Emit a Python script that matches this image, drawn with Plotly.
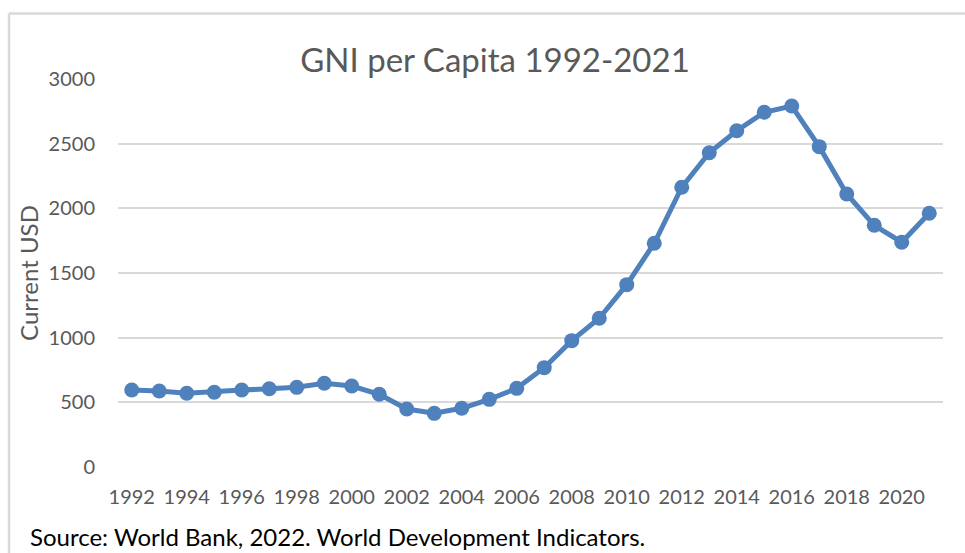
import plotly.graph_objects as go

years = list(range(1992, 2022))
gni = [595, 588, 570, 578, 595, 605, 616, 647, 626, 562, 448, 415, 454, 523, 608,
       768, 977, 1150, 1410, 1730, 2163, 2430, 2600, 2743, 2791, 2477, 2111, 1869, 1738, 1962]
y_ticks = [0, 500, 1000, 1500, 2000, 2500, 3000]
x_ticks = list(range(1992, 2021, 2))

title_text = "GNI per Capita 1992-2021"
y_title = "Current USD"
source_text = "Source: World Bank, 2022. World Development Indicators."

FONT = "Lato"
GRAY = "#595959"
BLUE = "#4f81bd"

fig = go.Figure()
fig.add_trace(go.Scatter(
    x=years, y=gni, mode="lines+markers",
    line=dict(color=BLUE, width=5),
    marker=dict(color=BLUE, size=15),
    showlegend=False, hoverinfo="x+y",
))

fig.update_layout(
    width=965, height=553,
    margin=dict(l=118, r=22, t=79, b=86),
    paper_bgcolor="white", plot_bgcolor="white",
    font=dict(family=FONT, color=GRAY, size=20),
    title=dict(text=title_text, x=495 / 965, xanchor="center", xref="container",
               y=1 - 60 / 553, yanchor="middle", yref="container",
               font=dict(family=FONT, size=33, color=GRAY)),
    xaxis=dict(range=[1991.5, 2021.5], tickvals=x_ticks, ticktext=[str(v) for v in x_ticks],
               showgrid=False, zeroline=False, showline=False, ticks="",
               ticklabelstandoff=16, tickfont=dict(size=20, color=GRAY)),
    yaxis=dict(range=[0, 3000], tickvals=y_ticks, showgrid=True, gridcolor="#d9d9d9",
               gridwidth=1.5, zeroline=False, showline=False, ticks="",
               ticklabelstandoff=22, tickfont=dict(size=20, color=GRAY),
               title=dict(text=y_title, standoff=3, font=dict(size=24, color=GRAY))),
)

# chart frame (top and left edges visible)
fig.add_shape(type="line", xref="paper", yref="paper",
              x0=-109 / 825, x1=847 / 825, y0=1 + 65.5 / 388, y1=1 + 65.5 / 388,
              line=dict(color="#d9d9d9", width=2.5))
fig.add_shape(type="line", xref="paper", yref="paper",
              x0=-109 / 825, x1=-109 / 825, y0=1 + 65.5 / 388, y1=-86 / 388 - 0.05,
              line=dict(color="#d9d9d9", width=2.5))

fig.add_annotation(text=source_text, xref="paper", yref="paper",
                   x=-90 / 825, y=-(536 - 467) / 388, xanchor="left", yanchor="middle",
                   showarrow=False, font=dict(family=FONT, size=24, color="#000000"))

fig.write_html("out.html", config={"displayModeBar": False},
               post_script="document.body.style.margin='0px';document.body.style.overflow='hidden';")
